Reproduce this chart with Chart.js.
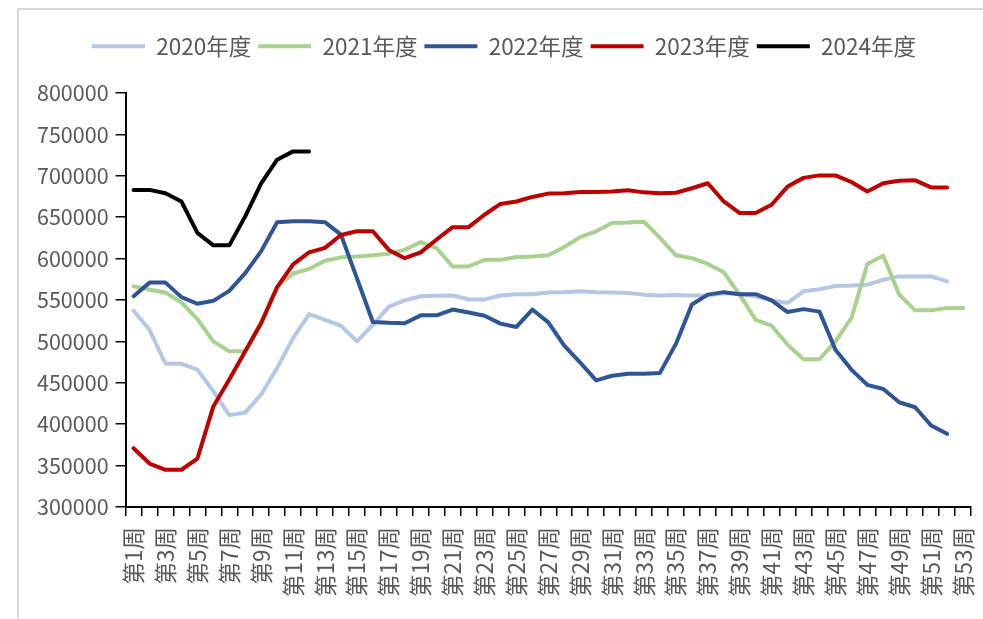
<!DOCTYPE html>
<html>
<head>
<meta charset="utf-8">
<script src="https://cdn.jsdelivr.net/npm/chart.js@4/dist/chart.umd.min.js"></script>
<style>
html,body{margin:0;padding:0;background:#fff;}
#wrap{position:relative;width:983px;height:619px;}
#frame{position:absolute;left:17px;top:8px;width:966px;height:611px;border-left:2px solid #d9d9d9;border-top:2px solid #d9d9d9;box-sizing:border-box;pointer-events:none;}
</style>
</head>
<body>
<div id="wrap"><canvas id="c"></canvas><div id="frame"></div></div>
<script>
const weeks = Array.from({length: 53}, (_, i) => '第' + (i + 1) + '周');
const seriesNames = ['2020年度', '2021年度', '2022年度', '2023年度', '2024年度'];
const seriesColors = ['#B4C7E7', '#A9D18E', '#2F5597', '#C00000', '#000000'];
const yTicks = [300000, 350000, 400000, 450000, 500000, 550000, 600000, 650000, 700000, 750000, 800000];

const y2020 = [537000, 514000, 473000, 473000, 466000, 440000, 411000, 414000, 436000, 468000,
  504000, 533000, 526000, 519000, 500000, 520000, 542000, 549500, 554500, 555000,
  555500, 551000, 550500, 555500, 557000, 557000, 559000, 559500, 560500, 559500,
  559000, 558500, 556500, 555500, 556000, 555500, 555500, 558500, 557500, 554500,
  549500, 546500, 560500, 563000, 567000, 567500, 568500, 574500, 578500, 578500,
  578500, 572500];
const y2021 = [566500, 562500, 559000, 547000, 527000, 500000, 488000, 488000, 524000, 566000,
  582000, 587500, 597500, 601500, 602500, 604000, 606000, 610500, 620000, 612500,
  590500, 590500, 598500, 598500, 602000, 602500, 604000, 614000, 626000, 633000,
  643000, 643500, 644500, 625000, 604000, 600500, 593500, 583500, 556500, 526000,
  519000, 496000, 478500, 478500, 500000, 528000, 593500, 603500, 556500, 537500,
  537500, 540500, 540500];
const y2022 = [554500, 571000, 571000, 553500, 545500, 549000, 561000, 582500, 609000, 644000,
  645000, 645000, 644000, 629000, 576500, 523500, 522500, 522000, 531500, 531500,
  538500, 535000, 531000, 521500, 517500, 538500, 523000, 495000, 474500, 453000,
  458500, 461000, 461000, 462000, 497000, 544500, 556500, 559500, 557000, 557000,
  549500, 535500, 539000, 536000, 490000, 466000, 447500, 442500, 426500, 420500,
  398500, 388500];
const y2023 = [371000, 352500, 345000, 345000, 358500, 421500, 454000, 488000, 522000, 565500,
  593000, 607500, 613000, 628500, 633000, 633000, 610500, 600500, 607500, 623000,
  638000, 638000, 653000, 666000, 669000, 674500, 678500, 679000, 680500, 680500,
  681000, 682500, 680000, 679000, 679500, 685000, 691000, 669000, 655000, 655000,
  665000, 687000, 697500, 700500, 700500, 692500, 681000, 691000, 694000, 694500,
  686000, 686000];
const y2024 = [683000, 683000, 679000, 669000, 631000, 616000, 616000, 651000, 691000, 719500,
  729500, 729500];

const seriesData = [y2020, y2021, y2022, y2023, y2024];
const FONT = '"Noto Sans CJK SC", "Noto Sans", sans-serif';
const TXT = '#595959';

function build() {
  const datasets = seriesNames.map((name, i) => ({
    label: name,
    data: seriesData[i],
    borderColor: seriesColors[i],
    backgroundColor: seriesColors[i],
    borderWidth: 4,
    borderCapStyle: 'round',
    borderJoinStyle: 'round',
    pointRadius: 0,
    pointHoverRadius: 0,
    tension: 0,
    fill: false,
    order: seriesNames.length - i
  }));

  new Chart(document.getElementById('c'), {
    type: 'line',
    data: { labels: weeks, datasets },
    options: {
      responsive: true,
      maintainAspectRatio: false,
      animation: false,
      devicePixelRatio: 1,
      layout: { padding: { left: 37, right: 12, top: 28, bottom: 22 } },
      plugins: {
        tooltip: { enabled: false },
        legend: {
          position: 'top',
          labels: {
            sort: (a, b) => a.datasetIndex - b.datasetIndex,
            usePointStyle: true,
            pointStyle: 'line',
            pointStyleWidth: 53,
            padding: 7,
            color: TXT,
            font: { family: FONT, size: 22.5 }
          }
        },
        subtitle: {
          display: true,
          text: ' ',
          position: 'top',
          weight: 500,
          font: { size: 10, lineHeight: 1 },
          padding: { top: 15.5, bottom: 0 }
        }
      },
      scales: {
        x: {
          type: 'category',
          offset: true,
          afterFit: (axis) => { axis.paddingLeft = 0; axis.paddingRight = 0; axis.height -= 11; },
          grid: {
            offset: true,
            drawOnChartArea: false,
            drawTicks: true,
            tickLength: 9,
            tickColor: '#000',
            lineWidth: 1.5
          },
          border: { display: true, color: '#000', width: 2 },
          ticks: {
            autoSkip: false,
            minRotation: 90,
            maxRotation: 90,
            padding: 11,
            color: TXT,
            font: { family: FONT, size: 22.5 },
            callback: function(v, i) { return i % 2 === 0 ? weeks[i] : ''; }
          }
        },
        y: {
          min: yTicks[0],
          max: yTicks[yTicks.length - 1],
          afterBuildTicks: (axis) => { axis.ticks = yTicks.map(v => ({ value: v })); },
          afterFit: (axis) => { axis.width -= 7; },
          grid: {
            drawOnChartArea: false,
            drawTicks: true,
            tickLength: 10,
            tickColor: '#000',
            lineWidth: 1.5
          },
          border: { display: true, color: '#000', width: 2 },
          ticks: {
            padding: 7,
            color: TXT,
            font: { family: FONT, size: 21.5 },
            callback: (v) => String(v)
          }
        }
      }
    }
  });
}

const fontReady = (document.fonts && document.fonts.load)
  ? Promise.all([
      document.fonts.load('22.5px "Noto Sans CJK SC"', '第1周2020年度0123456789'),
      document.fonts.load('21.5px "Noto Sans CJK SC"', '第1周0123456789')
    ]).catch(() => {})
  : Promise.resolve();
fontReady.then(build);
</script>
</body>
</html>
